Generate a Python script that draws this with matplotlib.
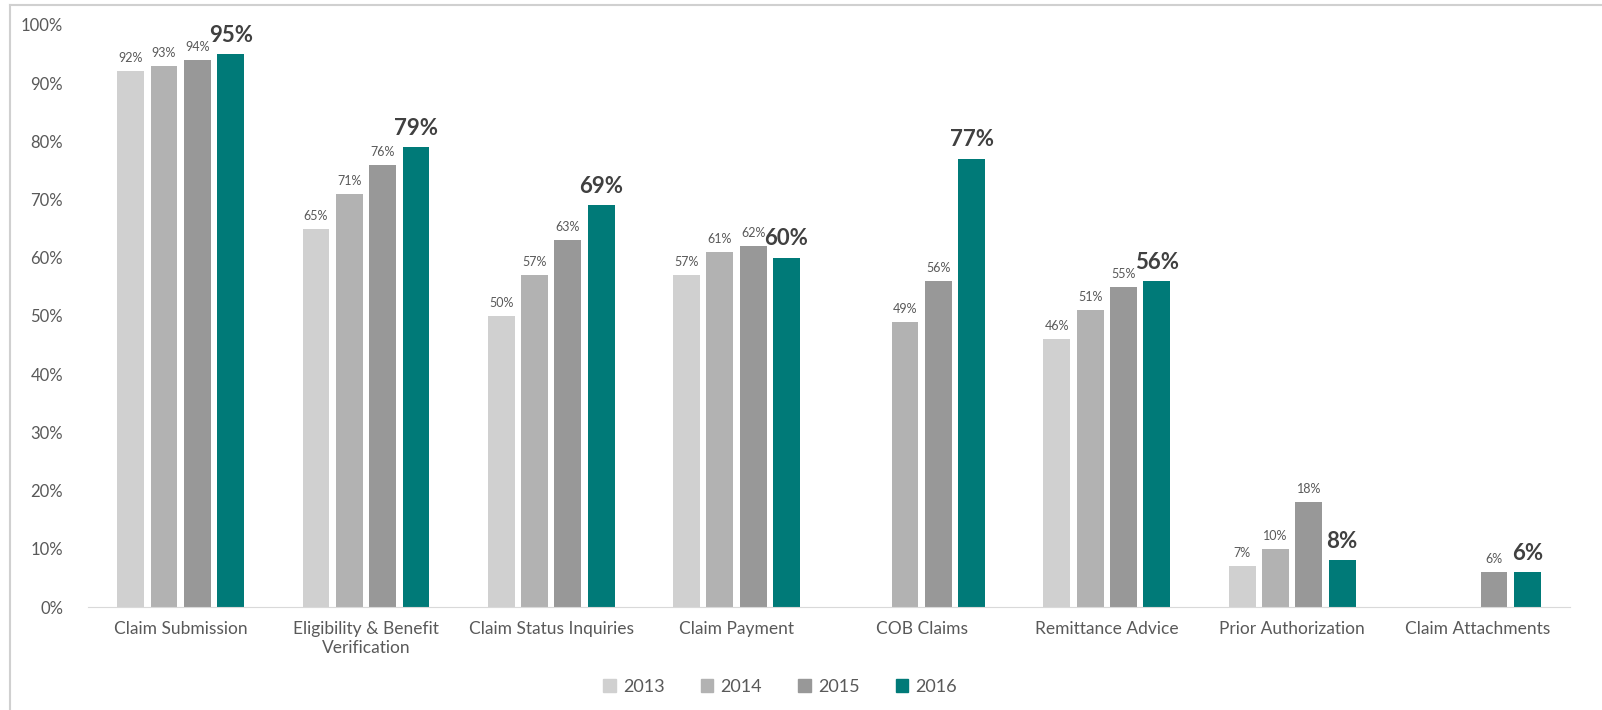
import numpy as np
import matplotlib
matplotlib.use('Agg')
import matplotlib.pyplot as plt
from matplotlib.lines import Line2D

plt.rcParams['font.family'] = ['Lato', 'DejaVu Sans']

# Dados do gráfico
categories = ['Claim Submission', 'Eligibility & Benefit\nVerification', 'Claim Status Inquiries',
              'Claim Payment', 'COB Claims', 'Remittance Advice', 'Prior Authorization',
              'Claim Attachments']
years = ['2013', '2014', '2015', '2016']
v2013 = [92, 65, 50, 57, np.nan, 46, 7, np.nan]
v2014 = [93, 71, 57, 61, 49, 51, 10, np.nan]
v2015 = [94, 76, 63, 62, 56, 55, 18, 6]
v2016 = [95, 79, 69, 60, 77, 56, 8, 6]
series = [v2013, v2014, v2015, v2016]
colors = ['#d0d0d0', '#b2b2b2', '#989898', '#007a78']

fig = plt.figure(figsize=(16.02, 7.10), dpi=100)
ax = fig.add_axes([0.055, 0.145, 0.925, 0.82])

x = np.arange(len(categories))
width = 0.145
step = 0.18

for i, (vals, col) in enumerate(zip(series, colors)):
    pos = x + (i - 1.5) * step
    ax.bar(pos, vals, width, color=col, label=years[i])
    for px, v in zip(pos, vals):
        if np.isnan(v):
            continue
        if i == 3:
            ax.annotate(f'{v:.0f}%', (px, v), xytext=(0, 6), textcoords='offset points',
                        ha='center', va='bottom', fontsize=16, fontweight='bold', color='#404040')
        else:
            ax.annotate(f'{v:.0f}%', (px, v), xytext=(0, 5), textcoords='offset points',
                        ha='center', va='bottom', fontsize=9, color='#595959')

ax.set_ylim(0, 100)
ax.set_xlim(-0.5, 7.5)
ax.set_yticks(range(0, 101, 10))
ax.set_yticklabels([f'{t}%' for t in range(0, 101, 10)], fontsize=12, color='#595959')
ax.set_xticks(x)
ax.set_xticklabels(categories, fontsize=12.5, color='#595959')
ax.tick_params(length=0, pad=10)
ax.tick_params(axis='y', pad=18)
for s in ['top', 'right', 'left']:
    ax.spines[s].set_visible(False)
ax.spines['bottom'].set_color('#d9d9d9')

handles = [plt.Rectangle((0, 0), 1, 1, color=c) for c in colors]
fig.legend(handles, years, loc='center', bbox_to_anchor=(0.487, 0.033), ncol=4, frameon=False,
           fontsize=13, handlelength=0.7, handleheight=0.7, columnspacing=2.0, handletextpad=0.4,
           labelcolor='#595959')

# moldura clara em volta
fig.add_artist(Line2D([0.006, 1.0], [0.993, 0.993], transform=fig.transFigure, color='#d0d0d0', lw=1.5))
fig.add_artist(Line2D([0.006, 0.006], [0.0, 0.993], transform=fig.transFigure, color='#d0d0d0', lw=1.5))

fig.savefig('out.png', dpi=100)
